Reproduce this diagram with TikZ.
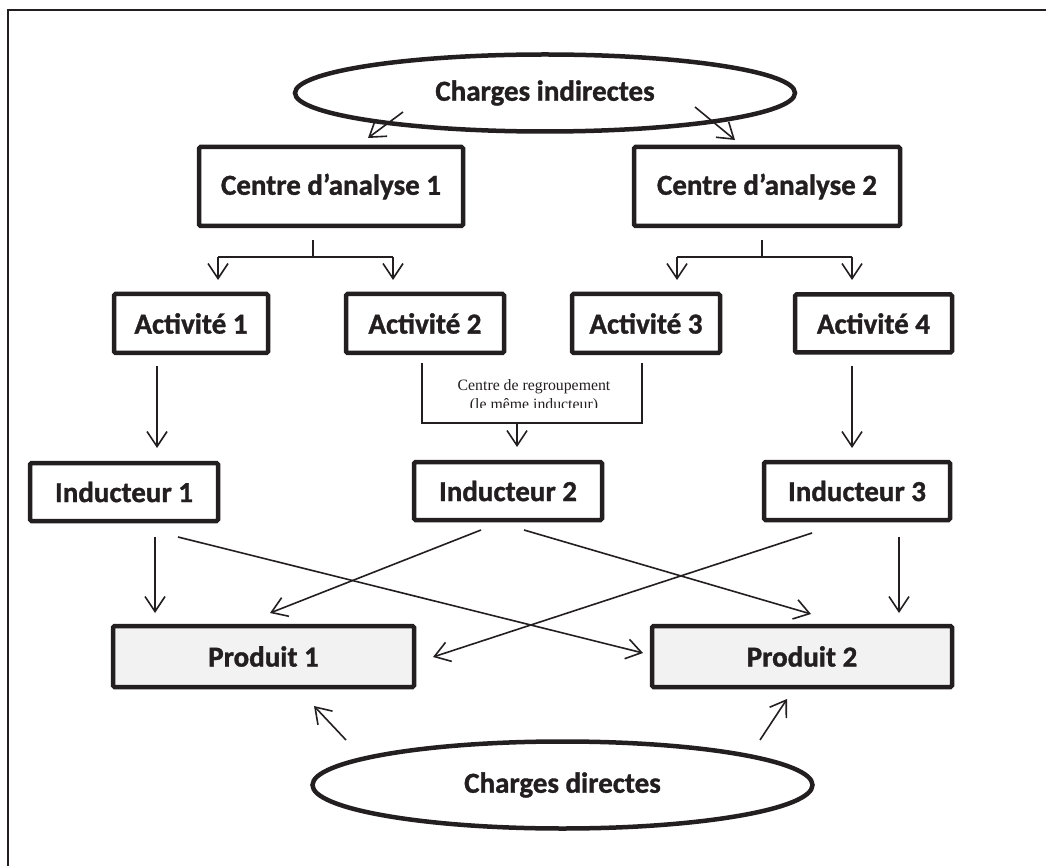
\documentclass[tikz,border=0pt]{standalone}
\usepackage{fontspec}
\setmainfont{Carlito}[BoldFeatures={FakeBold=1.2}]
\newfontfamily\serifnote{Liberation Serif}
\usetikzlibrary{shapes.geometric,arrows.meta}
\definecolor{ink}{HTML}{231F20}
\definecolor{prodfill}{HTML}{F2F2F2}
\begin{document}
\begin{tikzpicture}[x=1pt,y=-1pt,
  box/.style={draw=ink,line width=4.5pt,rounded corners=1.5pt,inner sep=0pt,
    font=\bfseries\fontsize{29}{34}\selectfont,text=ink},
  prod/.style={box,fill=prodfill},
  oval/.style={draw=ink,line width=4.5pt,ellipse,inner sep=0pt,
    font=\bfseries\fontsize{29}{34}\selectfont,text=ink},
  link/.style={draw=ink,line width=1.6pt},
  arr/.style={link,-{Straight Barb[length=15pt,width=20pt,line width=1.6pt]}}
]
\useasboundingbox (0,0) rectangle (1052,866);
% frame
\draw[ink,line width=1.5pt] (8,866) -- (8,10) -- (1046,10);

% ellipses
\node[oval,minimum width=500pt,minimum height=77pt] (ci) at (545,93) {Charges indirectes};
\node[oval,minimum width=500pt,minimum height=87pt] (cd) at (562.5,785) {Charges directes};

% analysis centres
\node[box,minimum width=264pt,minimum height=79pt] (ca1) at (331,186.5) {Centre d’analyse 1};
\node[box,minimum width=266pt,minimum height=79pt] (ca2) at (767,186.5) {Centre d’analyse 2};

% activities
\node[box,minimum width=154pt,minimum height=59pt] (a1) at (191,323.5) {Activité 1};
\node[box,minimum width=158pt,minimum height=59pt] (a2) at (425,323.5) {Activité 2};
\node[box,minimum width=148pt,minimum height=59pt] (a3) at (646,323.5) {Activité 3};
\node[box,minimum width=157pt,minimum height=58pt] (a4) at (873.5,323.5) {Activité 4};

% cost drivers
\node[box,minimum width=188pt,minimum height=58pt] (i1) at (124,492) {Inducteur 1};
\node[box,minimum width=188pt,minimum height=58pt] (i2) at (508,491) {Inducteur 2};
\node[box,minimum width=186pt,minimum height=58pt] (i3) at (857,491) {Inducteur 3};

% products
\node[prod,minimum width=301pt,minimum height=61pt] (p1) at (263.5,656.5) {Produit 1};
\node[prod,minimum width=300pt,minimum height=61pt] (p2) at (802,656.5) {Produit 2};

% grouping centre note, its lower edge cut off by the frame
\begin{scope}
  \clip (400,360) rectangle (660,407);
  \node[font=\serifnote\fontsize{15.8}{18.5}\selectfont,text=ink,align=center,inner sep=0pt] (note) at (534,396)
    {Centre de regroupement\\(le même inducteur)};
\end{scope}

% connector end points
\coordinate (ciL) at (403,112);  \coordinate (ca1in) at (368,138);
\coordinate (ciR) at (695,107);  \coordinate (ca2in) at (735,140);
\coordinate (b1) at (313,240);   \coordinate (b1m) at (313,257);
\coordinate (b1l) at (218,257);  \coordinate (b1r) at (393,257);
\coordinate (a1top) at (218,280); \coordinate (a2top) at (393,280);
\coordinate (b2) at (762,240);   \coordinate (b2m) at (762,257);
\coordinate (b2l) at (677,257);  \coordinate (b2r) at (852,257);
\coordinate (a3top) at (677,280); \coordinate (a4top) at (852,280);
\coordinate (a1out) at (157,366); \coordinate (i1in) at (157,448);
\coordinate (a4out) at (852,366); \coordinate (i3in) at (852,448);
\coordinate (g1) at (422,363);   \coordinate (g1b) at (422,423);
\coordinate (g2) at (642,363);   \coordinate (g2b) at (642,423);
\coordinate (gm) at (517,423);   \coordinate (i2in) at (517,447);
\coordinate (i1a) at (155,537);  \coordinate (p1a) at (155,613);
\coordinate (i1b) at (178,537);  \coordinate (p2b) at (643,653);
\coordinate (i2a) at (481,530);  \coordinate (p1b) at (270,613);
\coordinate (i2b) at (524,530);  \coordinate (p2a) at (811,614);
\coordinate (i3a) at (812,533);  \coordinate (p1c) at (433,657);
\coordinate (i3b) at (899,537);  \coordinate (p2c) at (899,613);
\coordinate (cdL) at (346,740);  \coordinate (p1d) at (314,706);
\coordinate (cdR) at (760,740);  \coordinate (p2d) at (787,699);

% indirect charges to analysis centres
\draw[arr] (ciL) -- (ca1in);
\draw[arr] (ciR) -- (ca2in);

% centres to activities
\draw[link] (b1) -- (b1m);
\draw[link] (b1l) -- (b1r);
\draw[arr] (b1l) -- (a1top);
\draw[arr] (b1r) -- (a2top);
\draw[link] (b2) -- (b2m);
\draw[link] (b2l) -- (b2r);
\draw[arr] (b2l) -- (a3top);
\draw[arr] (b2r) -- (a4top);

% activities to drivers
\draw[arr] (a1out) -- (i1in);
\draw[arr] (a4out) -- (i3in);
\draw[link] (g1) -- (g1b) -- (g2b) -- (g2);
\draw[arr] (gm) -- (i2in);

% drivers to products
\draw[arr] (i1a) -- (p1a);
\draw[arr] (i1b) -- (p2b);
\draw[arr] (i2a) -- (p1b);
\draw[arr] (i2b) -- (p2a);
\draw[arr] (i3a) -- (p1c);
\draw[arr] (i3b) -- (p2c);

% direct charges to products
\draw[arr] (cdL) -- (p1d);
\draw[arr] (cdR) -- (p2d);
\end{tikzpicture}
\end{document}
